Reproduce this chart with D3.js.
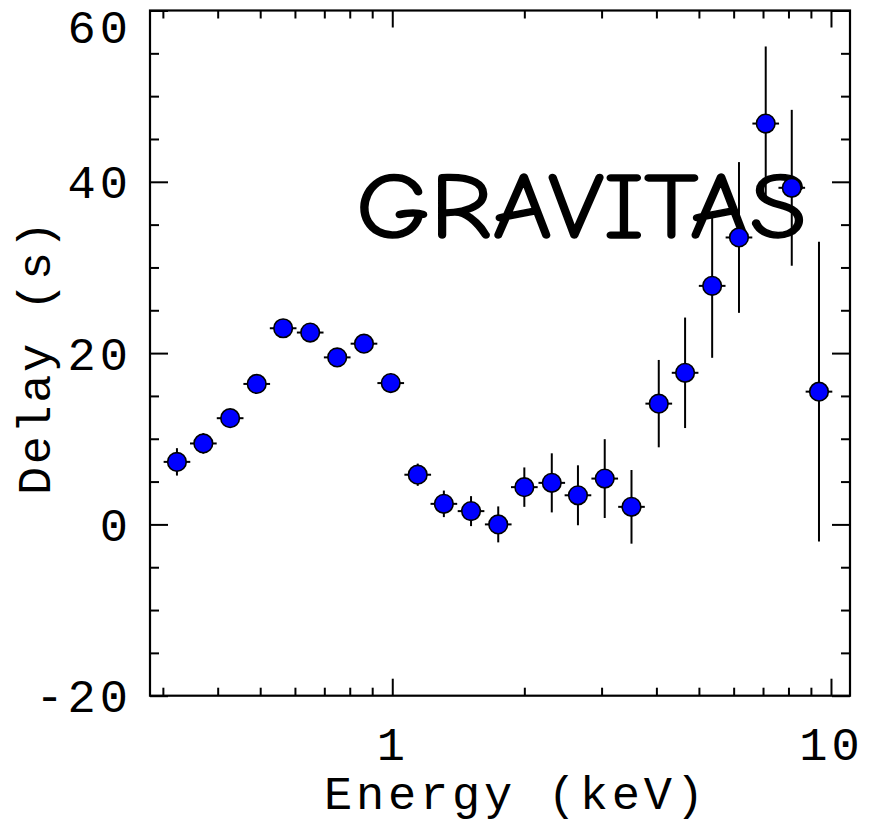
<!DOCTYPE html>
<html>
<head>
<meta charset="utf-8">
<script src="https://cdn.jsdelivr.net/npm/d3@7"></script>
<style>
  html, body { margin: 0; padding: 0; background: #fff; }
  svg { display: block; }
</style>
</head>
<body>
<svg id="chart" width="877" height="836"></svg>
<script>
// ---- data ----
const energy = [0.323, 0.371, 0.427, 0.491, 0.564, 0.650, 0.749, 0.862, 0.992, 1.143, 1.311, 1.512, 1.744, 2.00, 2.31, 2.65, 3.05, 3.51, 4.05, 4.65, 5.36, 6.17, 7.10, 8.14, 9.39];
const energyLo = [0.3012, 0.3459, 0.3981, 0.4578, 0.5259, 0.6061, 0.6984, 0.8037, 0.9249, 1.0657, 1.2224, 1.4098, 1.6261, 1.8648, 2.154, 2.471, 2.844, 3.273, 3.776, 4.336, 4.998, 5.753, 6.620, 7.590, 8.755];
const energyHi = [0.3464, 0.3979, 0.4580, 0.5266, 0.6049, 0.6971, 0.8033, 0.9245, 1.0639, 1.2259, 1.4060, 1.6216, 1.8704, 2.145, 2.477, 2.842, 3.271, 3.764, 4.344, 4.987, 5.749, 6.617, 7.615, 8.730, 10.07];
const delay = [7.3, 9.45, 12.4, 16.4, 22.9, 22.4, 19.5, 21.1, 16.5, 5.8, 2.4, 1.55, 0.0, 4.35, 4.85, 3.4, 5.35, 2.05, 14.1, 17.7, 27.85, 33.5, 46.8, 39.3, 15.5];
const delayErr = [1.6, 1.2, 0.8, 0.8, 0.7, 0.7, 0.8, 1.0, 1.1, 1.3, 1.55, 1.75, 2.1, 2.3, 3.45, 3.5, 4.6, 4.3, 5.1, 6.45, 8.4, 8.8, 9.0, 9.1, 17.5];

const xMajorTicks = [1, 10];
const xMinorTicks = [0.3, 0.4, 0.5, 0.6, 0.7, 0.8, 0.9, 2, 3, 4, 5, 6, 7, 8, 9];
const yMajorTicks = [-20, 0, 20, 40, 60];
const yMinorTicks = [-15, -10, -5, 5, 10, 15, 25, 30, 35, 45, 50, 55];

const xTitle = "Energy (keV)";
const yTitle = "Delay (s)";
const watermark = "GRAVITAS";

// ---- layout ----
const L = 150, R = 850, T = 10.5, B = 695.7;
const monoFont = "'Liberation Mono', 'Courier New', 'DejaVu Sans Mono', monospace";
const fsTick = 47;
const fsTitle = 47;

const svg = d3.select("#chart");

const x = d3.scaleLog().domain([0.2804, 11.05]).range([L, R]);
const y = d3.scaleLinear().domain([-20, 60]).range([B, T]);

const data = energy.map((e, i) => ({ e, lo: energyLo[i], hi: energyHi[i], d: delay[i], err: delayErr[i] }));

// ---- axes (ticks point inward) ----
function styleAxis(g) {
  g.select(".domain").remove();
  g.selectAll(".tick line").attr("stroke", "#000").attr("stroke-width", 2);
}

// bottom major with labels
const gxB = svg.append("g").attr("transform", `translate(0,${B})`)
  .call(d3.axisBottom(x).tickValues(xMajorTicks).tickSize(-17).tickFormat(d3.format("d")));
styleAxis(gxB);
gxB.selectAll(".tick text").attr("y", 64).attr("dy", 0)
  .attr("font-family", monoFont).attr("font-size", fsTick).attr("fill", "#000")
  .attr("letter-spacing", 4);

// bottom minor
const gxBm = svg.append("g").attr("transform", `translate(0,${B})`)
  .call(d3.axisBottom(x).tickValues(xMinorTicks).tickSize(-8).tickFormat(""));
styleAxis(gxBm);

// top major / minor
const gxT = svg.append("g").attr("transform", `translate(0,${T})`)
  .call(d3.axisTop(x).tickValues(xMajorTicks).tickSize(-17).tickFormat(""));
styleAxis(gxT);
const gxTm = svg.append("g").attr("transform", `translate(0,${T})`)
  .call(d3.axisTop(x).tickValues(xMinorTicks).tickSize(-8).tickFormat(""));
styleAxis(gxTm);

// left major with labels
const gyL = svg.append("g").attr("transform", `translate(${L},0)`)
  .call(d3.axisLeft(y).tickValues(yMajorTicks).tickSize(-18).tickFormat(d => d < 0 ? "-" + Math.abs(d) : String(d)));
styleAxis(gyL);
gyL.selectAll(".tick text")
  .attr("x", -18).attr("dy", "0.34em")
  .attr("font-family", monoFont).attr("font-size", fsTick).attr("fill", "#000")
  .attr("text-anchor", "end").attr("letter-spacing", 4);
// keep the top label inside the figure
gyL.selectAll(".tick").filter(d => d === 60).select("text").attr("y", 16);

const gyLm = svg.append("g").attr("transform", `translate(${L},0)`)
  .call(d3.axisLeft(y).tickValues(yMinorTicks).tickSize(-9).tickFormat(""));
styleAxis(gyLm);

// right major / minor
const gyR = svg.append("g").attr("transform", `translate(${R},0)`)
  .call(d3.axisRight(y).tickValues(yMajorTicks).tickSize(-18).tickFormat(""));
styleAxis(gyR);
const gyRm = svg.append("g").attr("transform", `translate(${R},0)`)
  .call(d3.axisRight(y).tickValues(yMinorTicks).tickSize(-9).tickFormat(""));
styleAxis(gyRm);

// frame
svg.append("rect").attr("x", L).attr("y", T).attr("width", R - L).attr("height", B - T)
  .attr("fill", "none").attr("stroke", "#000").attr("stroke-width", 2.2);

// ---- error bars ----
const gErr = svg.append("g").attr("stroke", "#000").attr("stroke-width", 2);
gErr.selectAll("line.v").data(data).join("line").attr("class", "v")
  .attr("x1", d => x(d.e)).attr("x2", d => x(d.e))
  .attr("y1", d => y(d.d - d.err)).attr("y2", d => y(d.d + d.err));
gErr.selectAll("line.h").data(data).join("line").attr("class", "h")
  .attr("x1", d => x(d.lo)).attr("x2", d => x(d.hi))
  .attr("y1", d => y(d.d)).attr("y2", d => y(d.d));

// ---- watermark text ----
svg.append("text")
  .attr("x", 356).attr("y", 238)
  .attr("textLength", 451).attr("lengthAdjust", "spacingAndGlyphs")
  .attr("font-family", "'Comic Sans MS', 'Comic Neue', 'DejaVu Sans', sans-serif")
  .attr("font-size", 93)
  .attr("fill", "#000").attr("stroke", "#000").attr("stroke-width", 1.5).attr("stroke-linejoin", "round")
  .text(watermark);

// ---- markers ----
svg.append("g").selectAll("circle").data(data).join("circle")
  .attr("cx", d => x(d.e)).attr("cy", d => y(d.d)).attr("r", 9.3)
  .attr("fill", "#0000ff").attr("stroke", "#000").attr("stroke-width", 1.6);

// ---- axis titles ----
svg.append("text")
  .attr("x", 514).attr("y", 809)
  .attr("text-anchor", "middle")
  .attr("textLength", 380).attr("lengthAdjust", "spacing")
  .attr("font-family", monoFont).attr("font-size", fsTitle).attr("fill", "#000")
  .text(xTitle);

svg.append("text")
  .attr("transform", "translate(50,358) rotate(-90)")
  .attr("text-anchor", "middle")
  .attr("textLength", 274).attr("lengthAdjust", "spacing")
  .attr("font-family", monoFont).attr("font-size", fsTitle).attr("fill", "#000")
  .text(yTitle);
</script>
</body>
</html>
